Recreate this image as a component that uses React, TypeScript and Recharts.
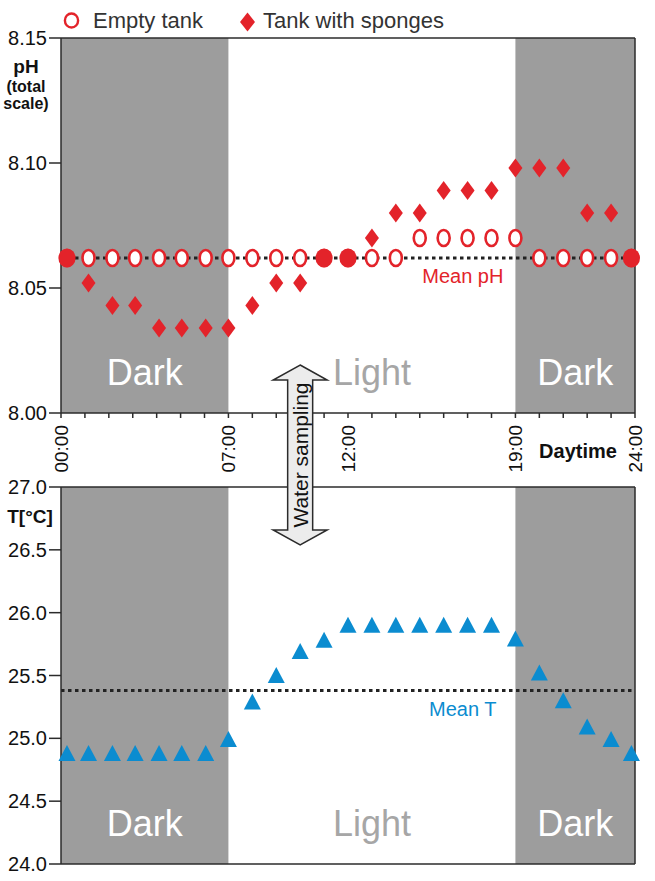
import React from 'react';
import { ComposedChart, Scatter, XAxis, YAxis, ReferenceArea, ReferenceLine } from 'recharts';

// sampling times (h)
const hours = [0.25, 1.15, 2.15, 3.1, 4.1, 5.05, 6.05, 7, 8, 9, 10, 11, 12, 13, 14, 15, 16, 17, 18, 19, 20, 21, 22, 23, 23.85];
const phEmptyTank = [8.062, 8.062, 8.062, 8.062, 8.062, 8.062, 8.062, 8.062, 8.062, 8.062, 8.062, 8.062, 8.062, 8.062, 8.062, 8.070, 8.070, 8.070, 8.070, 8.070, 8.062, 8.062, 8.062, 8.062, 8.062];
const phWithSponges = [8.062, 8.052, 8.043, 8.043, 8.034, 8.034, 8.034, 8.034, 8.043, 8.052, 8.052, 8.062, 8.062, 8.070, 8.080, 8.080, 8.089, 8.089, 8.089, 8.098, 8.098, 8.098, 8.080, 8.080, 8.062];
const temperature = [24.88, 24.88, 24.88, 24.88, 24.88, 24.88, 24.88, 24.99, 25.29, 25.5, 25.69, 25.78, 25.9, 25.9, 25.9, 25.9, 25.9, 25.9, 25.9, 25.79, 25.52, 25.3, 25.09, 24.99, 24.88];

const meanPh = 8.062;
const meanT = 25.38;

const phTicks = [8.0, 8.05, 8.1, 8.15];
const tempTicks = [24.0, 24.5, 25.0, 25.5, 26.0, 26.5, 27.0];
const hourTicks = [0, 1, 2, 3, 4, 5, 6, 7, 8, 9, 10, 11, 12, 13, 14, 15, 16, 17, 18, 19, 20, 21, 22, 23, 24];
const timeLabels: Record<number, string> = { 0: '00:00', 7: '07:00', 12: '12:00', 19: '19:00', 24: '24:00' };
const darkPeriods = [[0, 7], [19, 24]];
const lightPeriod = [7, 19];
const samplingHour = 10;

const phRows = hours.map((h, i) => ({ hour: h, empty: phEmptyTank[i], sponges: phWithSponges[i] }));
const tRows = hours.map((h, i) => ({ hour: h, temp: temperature[i] }));

const RED = '#e3232a';
const BLUE = '#0b8cd0';
const GREY = '#9d9d9d';
const INK = '#2b2b2b';
const FONT = '"Liberation Sans", Arial, Helvetica, sans-serif';

const W = 655;
const PLOT_LEFT = 61;
const PLOT_RIGHT = 635;

const EmptyMark = (p: any) => (
  <ellipse cx={p.cx} cy={p.cy} rx={6} ry={8} fill="#fff" stroke={RED} strokeWidth={2.6} />
);

const SpongeMark = (p: any) => {
  const { cx, cy, payload } = p;
  if (payload && payload.sponges === payload.empty) {
    return <ellipse cx={cx} cy={cy} rx={8.6} ry={9.6} fill={RED} />;
  }
  return <polygon points={`${cx},${cy - 9.5} ${cx + 7},${cy} ${cx},${cy + 9.5} ${cx - 7},${cy}`} fill={RED} />;
};

const TriangleMark = (p: any) => (
  <polygon points={`${p.cx},${p.cy - 8.5} ${p.cx + 8.5},${p.cy + 7.5} ${p.cx - 8.5},${p.cy + 7.5}`} fill={BLUE} />
);

const HourTick = (p: any) => {
  const lab = timeLabels[p.payload.value];
  if (!lab) return <g />;
  const x = p.x + 7;
  const y = p.y + 5;
  return (
    <text x={x} y={y} transform={`rotate(-90 ${x} ${y})`} textAnchor="end" fontSize={19} fill="#111" fontFamily={FONT}>
      {lab}
    </text>
  );
};

const periodLabel = (text: string, color: string) => (props: any) => {
  const vb = props.viewBox;
  if (!vb) return null;
  return (
    <text x={vb.x + vb.width / 2} y={vb.y + vb.height - 28} textAnchor="middle" fontSize={36} fill={color} fontFamily={FONT}>
      {text}
    </text>
  );
};

const meanLabel = (text: string, color: string) => (props: any) => {
  const vb = props.viewBox;
  if (!vb) return null;
  return (
    <text x={vb.x + vb.width * 0.7} y={vb.y + 25} textAnchor="middle" fontSize={20} fill={color} fontFamily={FONT}>
      {text}
    </text>
  );
};

const axisLine = { stroke: INK, strokeWidth: 1.5 };
const tickStyle = { fontSize: 20, fill: '#111', fontFamily: FONT };

const Periods = () => null;

const PhChart = () => (
  <ComposedChart width={W} height={480} data={phRows} margin={{ top: 38, right: W - PLOT_RIGHT, left: 0, bottom: 0 }}>
    <XAxis dataKey="hour" type="number" domain={[0, 24]} ticks={hourTicks} interval={0} height={67}
      axisLine={axisLine} tickLine={axisLine} tickSize={5} tick={<HourTick />} />
    <YAxis type="number" domain={[8.0, 8.15]} ticks={phTicks} width={PLOT_LEFT} axisLine={axisLine} tickLine={axisLine}
      tickSize={12} tickMargin={2} tick={tickStyle} tickFormatter={(v: number) => v.toFixed(2)} />
    {darkPeriods.map(([a, b], i) => (
      <ReferenceArea key={i} x1={a} x2={b} fill={GREY} fillOpacity={1} stroke="none" label={periodLabel('Dark', '#fff')} />
    ))}
    <ReferenceArea x1={lightPeriod[0]} x2={lightPeriod[1]} fill="#fff" fillOpacity={0} stroke="none" label={periodLabel('Light', '#a6a6a6')} />
    <ReferenceLine y={8.15} stroke={INK} strokeWidth={1.5} />
    <ReferenceLine x={24} stroke={INK} strokeWidth={1.5} />
    <ReferenceLine y={meanPh} stroke="#222" strokeWidth={3} strokeDasharray="3.5 3.5" label={meanLabel('Mean pH', RED)} />
    <Scatter dataKey="empty" name="Empty tank" shape={EmptyMark} isAnimationActive={false} />
    <Scatter dataKey="sponges" name="Tank with sponges" shape={SpongeMark} isAnimationActive={false} />
  </ComposedChart>
);

const TempChart = () => (
  <ComposedChart width={W} height={461} data={tRows} margin={{ top: 0, right: W - PLOT_RIGHT, left: 0, bottom: 17 }}>
    <XAxis dataKey="hour" type="number" orientation="top" domain={[0, 24]} ticks={hourTicks} interval={0} height={67}
      axisLine={axisLine} tickLine={axisLine} tickSize={6} tick={false} />
    <YAxis type="number" domain={[24, 27]} ticks={tempTicks} width={PLOT_LEFT} axisLine={axisLine} tickLine={axisLine}
      tickSize={12} tickMargin={2} tick={tickStyle} tickFormatter={(v: number) => v.toFixed(1)} />
    {darkPeriods.map(([a, b], i) => (
      <ReferenceArea key={i} x1={a} x2={b} fill={GREY} fillOpacity={1} stroke="none" label={periodLabel('Dark', '#fff')} />
    ))}
    <ReferenceArea x1={lightPeriod[0]} x2={lightPeriod[1]} fill="#fff" fillOpacity={0} stroke="none" label={periodLabel('Light', '#a6a6a6')} />
    <ReferenceLine y={24} stroke={INK} strokeWidth={1.5} />
    <ReferenceLine x={24} stroke={INK} strokeWidth={1.5} />
    <ReferenceLine y={meanT} stroke="#222" strokeWidth={3} strokeDasharray="3.5 3.5" label={meanLabel('Mean T', BLUE)} />
    <Scatter dataKey="temp" name="T" shape={TriangleMark} isAnimationActive={false} />
  </ComposedChart>
);

export default function App() {
  const ax = PLOT_LEFT + (samplingHour / 24) * (PLOT_RIGHT - PLOT_LEFT);
  const sw = 12.5, hw = 27;
  const top = 365, topBase = 380, botBase = 530, bot = 545;
  const arrow = [
    [ax, top], [ax + hw, topBase], [ax + sw, topBase], [ax + sw, botBase], [ax + hw, botBase],
    [ax, bot], [ax - hw, botBase], [ax - sw, botBase], [ax - sw, topBase], [ax - hw, topBase],
  ].map((p) => p.join(',')).join(' ');

  return (
    <div style={{ position: 'absolute', left: 0, top: 0, width: W, height: 881, background: '#fff', fontFamily: FONT }}>
      <div style={{ position: 'absolute', left: 0, top: 0 }}>
        <PhChart />
      </div>
      <div style={{ position: 'absolute', left: 0, top: 420 }}>
        <TempChart />
      </div>
      <svg width={W} height={881} style={{ position: 'absolute', left: 0, top: 0, pointerEvents: 'none' }} fontFamily={FONT}>
        {/* legend */}
        <ellipse cx={71.5} cy={20.5} rx={6.6} ry={7} fill="#fff" stroke={RED} strokeWidth={2.4} />
        <text x={93} y={28} fontSize={22} fill="#333">Empty tank</text>
        <polygon points="247.5,12.5 255,22 247.5,31.5 240,22" fill={RED} />
        <text x={263} y={28} fontSize={22} fill="#333">Tank with sponges</text>
        {/* axis titles */}
        <text x={26} y={73} textAnchor="middle" fontSize={19} fontWeight="bold" fill="#111">pH</text>
        <text x={26} y={92} textAnchor="middle" fontSize={16} fontWeight="bold" fill="#111">(total</text>
        <text x={26} y={109} textAnchor="middle" fontSize={16} fontWeight="bold" fill="#111">scale)</text>
        <text x={30} y={523} textAnchor="middle" fontSize={19} fontWeight="bold" fill="#111">T[°C]</text>
        <text x={578} y={458} textAnchor="middle" fontSize={20} fontWeight="bold" fill="#111">Daytime</text>
        {/* water sampling arrow */}
        <polygon points={arrow} fill="#ececec" stroke={INK} strokeWidth={1.5} strokeLinejoin="miter" />
        <text x={ax + 8} y={455} transform={`rotate(-90 ${ax + 8} 455)`} textAnchor="middle" fontSize={21} fill="#111">
          Water sampling
        </text>
      </svg>
    </div>
  );
}
